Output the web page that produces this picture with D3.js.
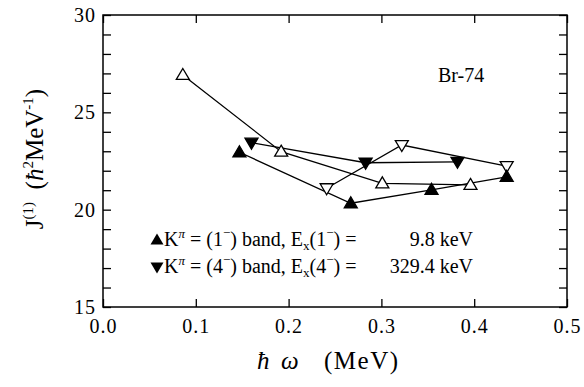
<!DOCTYPE html>
<html>
<head>
<meta charset="utf-8">
<script src="https://cdn.jsdelivr.net/npm/d3@7"></script>
<style>
  body { margin: 0; background: #fff; }
  svg { display: block; font-family: "Liberation Serif", "DejaVu Serif", serif; }
  text { white-space: pre; }
</style>
</head>
<body>
<svg id="chart" width="584" height="387"></svg>
<script>
// values (hbar omega in MeV, J(1) in hbar^2/MeV)
const band1Filled = [[0.147, 22.95], [0.267, 20.33], [0.354, 21.02], [0.435, 21.69]];
const band1Open = [[0.086, 26.92], [0.192, 22.98], [0.301, 21.35], [0.396, 21.27]];
const band4Filled = [[0.160, 23.44], [0.283, 22.41], [0.382, 22.46]];
const band4Open = [[0.241, 21.10], [0.322, 23.32], [0.435, 22.24]];
const xTicks = [0.0, 0.1, 0.2, 0.3, 0.4, 0.5];
const yTicks = [15, 20, 25, 30];
const yMinorTicks = d3.range(15, 31, 1);

const margin = { top: 15, right: 17, bottom: 80, left: 103 };
const width = 584 - margin.left - margin.right;
const height = 387 - margin.top - margin.bottom;

const svg = d3.select('#chart');
const g = svg.append('g').attr('transform', `translate(${margin.left}, ${margin.top})`);

const x = d3.scaleLinear().domain([0, 0.5]).range([0, width]);
const y = d3.scaleLinear().domain([15, 30]).range([height, 0]);

// frame
g.append('rect')
  .attr('width', width).attr('height', height)
  .attr('fill', 'none').attr('stroke', '#000').attr('stroke-width', 1.5);

// ticks pointing inward on all four sides
const tickLen = 8;
const axes = [];
axes.push(g.append('g').attr('transform', `translate(0, ${height})`)
  .call(d3.axisBottom(x).tickValues(xTicks).tickSizeInner(-tickLen).tickSizeOuter(0).tickPadding(12).tickFormat(d3.format('.1f'))));
axes.push(g.append('g')
  .call(d3.axisTop(x).tickValues(xTicks).tickSizeInner(-tickLen).tickSizeOuter(0).tickFormat('')));
axes.push(g.append('g')
  .call(d3.axisLeft(y).tickValues(yMinorTicks).tickSizeInner(-tickLen).tickSizeOuter(0).tickPadding(7)
    .tickFormat(d => yTicks.includes(d) ? d : '')));
axes.push(g.append('g').attr('transform', `translate(${width}, 0)`)
  .call(d3.axisRight(y).tickValues(yMinorTicks).tickSizeInner(-tickLen).tickSizeOuter(0).tickFormat('')));

axes.forEach(a => a.attr('font-family', null).attr('font-size', null));
g.selectAll('.domain').remove();
g.selectAll('.tick line').attr('stroke', '#000').attr('stroke-width', 1.3);
g.selectAll('.tick text')
  .attr('fill', '#000')
  .style('font-family', '"Liberation Serif", "Times New Roman", serif')
  .style('font-size', '20px')
  .style('letter-spacing', '1px');

// series lines
const line = d3.line().x(d => x(d[0])).y(d => y(d[1]));
[band1Filled, band1Open, band4Filled, band4Open].forEach(s => {
  g.append('path').datum(s)
    .attr('d', line)
    .attr('fill', 'none').attr('stroke', '#000').attr('stroke-width', 1.3);
});

// triangle markers
const upTri = 'M0,-6.5L6.5,4.5L-6.5,4.5Z';
const downTri = 'M0,6.5L6.5,-4.5L-6.5,-4.5Z';
function markers(data, shape, filled) {
  g.selectAll(null).data(data).enter().append('path')
    .attr('d', shape)
    .attr('transform', d => `translate(${x(d[0])}, ${y(d[1])})`)
    .attr('fill', filled ? '#000' : '#fff')
    .attr('stroke', '#000').attr('stroke-width', 1.3);
}
markers(band1Open, upTri, false);
markers(band4Open, downTri, false);
markers(band1Filled, upTri, true);
markers(band4Filled, downTri, true);

// nucleus label
g.append('text').attr('x', 335).attr('y', 67)
  .style('font-size', '20px').text('Br-74');

// legend
const legend = g.append('g').attr('transform', 'translate(54, 0)');
const legendRows = [
  { shape: upTri, k: '1', value: '9.8 keV', yy: 231 },
  { shape: downTri, k: '4', value: '329.4 keV', yy: 258 }
];
legendRows.forEach(r => {
  legend.append('path').attr('d', r.shape)
    .attr('transform', `translate(0, ${r.yy - 6})`).attr('fill', '#000');
  const t = legend.append('text').attr('x', 7).attr('y', r.yy).style('font-size', '20px');
  t.append('tspan').text('K');
  t.append('tspan').attr('dy', -8).style('font-size', '13px').style('font-style', 'italic').text('π');
  t.append('tspan').attr('dy', 8).text(' = (' + r.k);
  t.append('tspan').attr('dy', -9).style('font-size', '13px').text('−');
  t.append('tspan').attr('dy', 9).text(') band, E');
  t.append('tspan').attr('dy', 4).style('font-size', '13px').text('x');
  t.append('tspan').attr('dy', -4).text('(' + r.k);
  t.append('tspan').attr('dy', -9).style('font-size', '13px').text('−');
  t.append('tspan').attr('dy', 9).text(') =');
  legend.append('text').attr('x', 316).attr('y', r.yy)
    .attr('text-anchor', 'end').style('font-size', '20px').text(r.value);
});

// x axis title
const xt = svg.append('text').attr('x', 257).attr('y', 369).style('font-size', '25px');
xt.append('tspan').style('font-style', 'italic').text('ħ');
xt.append('tspan').attr('x', 281).style('font-style', 'italic').text('ω');
xt.append('tspan').attr('x', 324).style('letter-spacing', '1.5px').text('(MeV)');

// y axis title
const yt = svg.append('text')
  .attr('transform', `translate(43, 159) rotate(-90)`)
  .attr('text-anchor', 'middle').style('font-size', '25px');
yt.append('tspan').text('J');
yt.append('tspan').attr('dy', -10).style('font-size', '15px').text('(1)');
yt.append('tspan').attr('dy', 10).text('  (');
yt.append('tspan').style('font-style', 'italic').text('ħ');
yt.append('tspan').attr('dy', -10).style('font-size', '15px').text('2');
yt.append('tspan').attr('dy', 10).text('MeV');
yt.append('tspan').attr('dy', -10).style('font-size', '15px').text('-1');
yt.append('tspan').attr('dy', 10).text(')');
</script>
</body>
</html>
